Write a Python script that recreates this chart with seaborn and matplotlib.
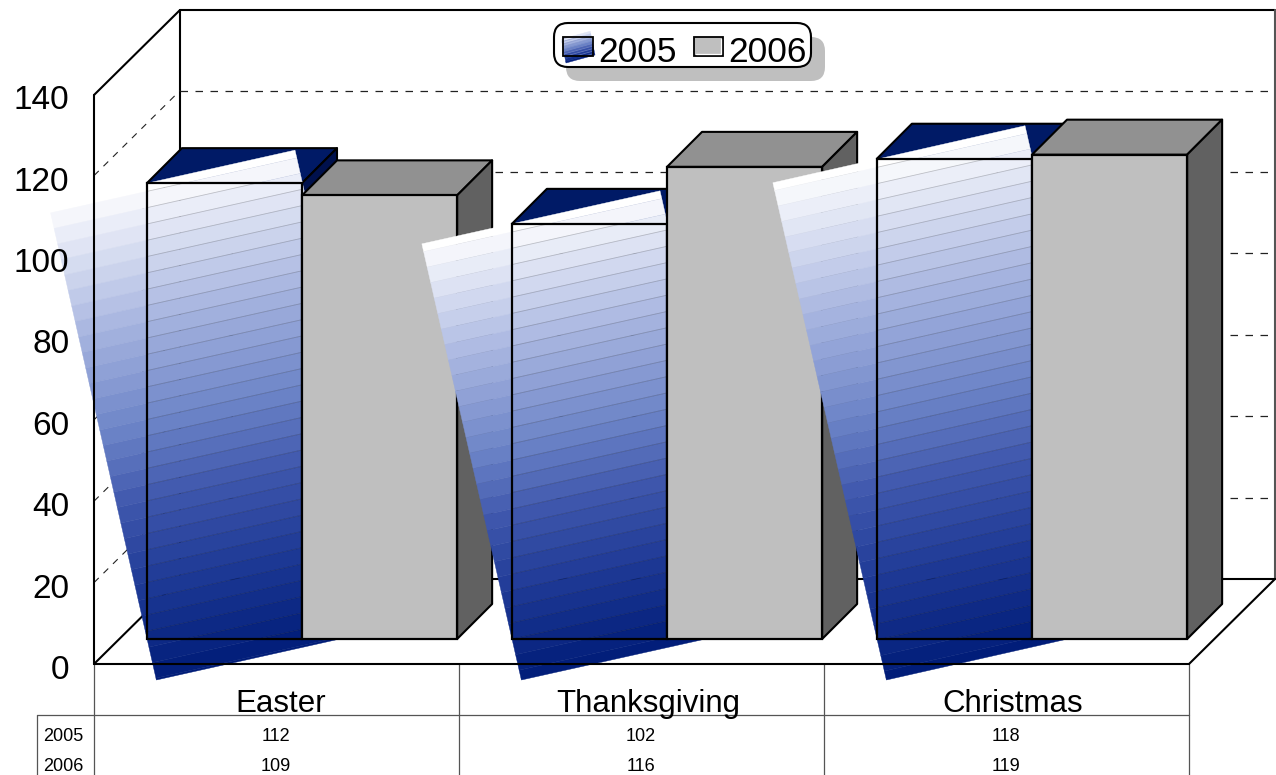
import numpy as np
import pandas as pd
import matplotlib
matplotlib.use('Agg')
import matplotlib.pyplot as plt
from matplotlib.patches import Polygon, Rectangle, FancyBboxPatch
from matplotlib.transforms import Affine2D
import seaborn as sns

# Chart values
holidays = ['Easter', 'Thanksgiving', 'Christmas']
years = ['2005', '2006']
sales_2005 = [112, 102, 118]
sales_2006 = [109, 116, 119]
y_ticks = [0, 20, 40, 60, 80, 100, 120, 140]

df = pd.DataFrame({
    'holiday': holidays * 2,
    'year': [years[0]] * 3 + [years[1]] * 3,
    'sales': sales_2005 + sales_2006,
})

sns.set_style('white')
plt.rcParams['font.family'] = ['Liberation Sans', 'DejaVu Sans']
plt.rcParams['text.color'] = 'black'
plt.rcParams['ytick.color'] = 'black'

W, H = 1276, 775
PX_PER_UNIT = 4.07
fig = plt.figure(figsize=(W / 100, H / 100), dpi=100)
ax = fig.add_axes([0, 0, 1, 1])

# Bars sit on the front plane of the fake 3d box
sns.barplot(data=df, x='holiday', y='sales', hue='year', order=holidays, hue_order=years,
            palette=['#001a66', '#bfbfbf'], width=0.85, gap=0, saturation=1,
            edgecolor='black', linewidth=1.6, legend=False, ax=ax)
ax.set_xlim((0 - 302) / 365, (W - 302) / 365)
ax.set_ylim((639 - H) / PX_PER_UNIT, 639 / PX_PER_UNIT)
ax.set_axis_off()

# Screen pixels, y going down
pix = Affine2D().scale(1 / W, -1 / H).translate(0, 1) + fig.transFigure
to_pix = ax.transData + pix.inverted()


def poly(points, color, z, edge='black', lw=1.5):
    ax.add_patch(Polygon(points, closed=True, facecolor=color, edgecolor=edge, linewidth=lw,
                         transform=pix, zorder=z, joinstyle='round', clip_on=False))


def line(xs, ys, z=2, color='black', lw=1.5, ls='-'):
    ax.plot(xs, ys, color=color, lw=lw, ls=ls, transform=pix, zorder=z, clip_on=False,
            solid_capstyle='round')


def band_color(t):
    stops = [0, 0.28, 0.49, 0.635, 0.8, 1]
    reds = [255, 165, 106, 63, 31, 0]
    greens = [255, 179, 130, 87, 58, 28]
    blues = [255, 223, 198, 173, 150, 120]
    return (np.interp(t, stops, reds) / 255, np.interp(t, stops, greens) / 255, np.interp(t, stops, blues) / 255)


def gradient(tl, tr, bl, z, clip=None, spacing=15.9, seam='black', seam_alpha=0.2):
    # tilted gradient sheet made of flat bands, first band is a half one and pure white
    tl, tr, bl = np.array(tl, float), np.array(tr, float), np.array(bl, float)
    down = bl - tl
    across = tr - tl
    length = np.hypot(*down)
    edges = np.append(np.arange(spacing / 2, length, spacing), length)
    edges = np.insert(edges, 0, 0)
    for i in range(len(edges) - 1):
        a = tl + down * edges[i] / length
        b = tl + down * edges[i + 1] / length
        color = (1, 1, 1) if i == 0 else band_color((edges[i] + edges[i + 1]) / 2 / length)
        poly([a, a + across, b + across, b], color, z, edge=color, lw=0.3)
        if clip is not None and i > 0:
            seam_line, = ax.plot([a[0], a[0] + across[0]], [a[1], a[1] + across[1]], color=seam, lw=0.6,
                                 alpha=seam_alpha, transform=pix, zorder=z + 0.1)
            seam_line.set_clip_path(clip)


# Walls and floor of the box
line([94, 94], [95, 664], z=100)
line([94, 180], [95, 10])
line([180, 180], [10, 579])
line([180, 1275], [10, 10])
line([1275, 1275], [10, 579], color='#555555')
line([180, 1275], [579, 579])
line([94, 180], [664, 579])
line([94, 1189], [664, 664], z=100)
line([1189, 1275], [664, 579])
for tick in y_ticks[1:-1]:
    back_y = 579 - tick * PX_PER_UNIT
    line([180, 1275], [back_y, back_y], lw=0.9, ls=(0, (6, 6)), color='#222222')
    line([94, 180], [back_y + 85, back_y], lw=0.8, ls=(0, (6, 6)), color='#222222')

# 3d faces and the gradient sheets, group by group so later ones cover earlier ones
blue_bars = ax.containers[0]
grey_bars = ax.containers[1]
sheet_offsets = [(-98, 22), (-90, 20), (-104, 24)]
DEPTH = 35
for i, (blue, grey) in enumerate(zip(blue_bars, grey_bars)):
    z = 10 + i * 10
    x0, top = to_pix.transform((blue.get_x(), blue.get_height()))
    x1, base = to_pix.transform((blue.get_x() + blue.get_width(), 0))
    poly([(x0, top), (x0 + DEPTH, top - DEPTH), (x1 + DEPTH, top - DEPTH), (x1, top)], '#001a66', z)
    poly([(x1, top), (x1 + DEPTH, top - DEPTH), (x1 + DEPTH, base - DEPTH), (x1, base)], '#00114d', z)

    off = sheet_offsets[i]
    front = Rectangle((x0, top), x1 - x0, base - top, transform=pix)
    gradient((x0 + off[0], top + off[1]), (x1 - 7, top - 33), (x0 + 9.5, base + 41), z + 1, clip=front)
    blue.set_facecolor('none')
    blue.set_zorder(z + 2)

    gx0, gtop = to_pix.transform((grey.get_x(), grey.get_height()))
    gx1, gbase = to_pix.transform((grey.get_x() + grey.get_width(), 0))
    poly([(gx0, gtop), (gx0 + DEPTH, gtop - DEPTH), (gx1 + DEPTH, gtop - DEPTH), (gx1, gtop)], '#919191', z + 3)
    poly([(gx1, gtop), (gx1 + DEPTH, gtop - DEPTH), (gx1 + DEPTH, gbase - DEPTH), (gx1, gbase)], '#616161', z + 3)
    grey.set_zorder(z + 4)

# Data table under the floor
TABLE_GREY = '#555555'
for x in [94, 459, 824, 1189]:
    line([x, x], [664, H], z=1, color=TABLE_GREY, lw=0.9)
line([37, 37], [715, H], z=1, color=TABLE_GREY, lw=0.9)
line([37, 1189], [715, 715], z=1, color=TABLE_GREY, lw=0.9)
for year, row, baseline in zip(years, [sales_2005, sales_2006], [741, 771]):
    ax.text(63.5, baseline, year, transform=pix, ha='center', va='baseline', fontsize=13, zorder=101)
    for x, val in zip([276, 641, 1006], row):
        ax.text(x, baseline, str(val), transform=pix, ha='center', va='baseline', fontsize=13, zorder=101)
for x, name in zip([281, 648.5, 1012.5], holidays):
    ax.text(x, 712, name, transform=pix, ha='center', va='baseline', fontsize=22.5, zorder=101)

# Legend box with its shadow
ax.add_patch(FancyBboxPatch((566 + 13, 37 + 13), 259 - 26, 44 - 26, boxstyle='round,pad=13,rounding_size=14',
                            facecolor='#bfbfbf', edgecolor='none', transform=pix, zorder=200))
ax.add_patch(FancyBboxPatch((554 + 13, 23 + 13), 257 - 26, 44 - 26, boxstyle='round,pad=13,rounding_size=14',
                            facecolor='white', edgecolor='black', linewidth=1.5, transform=pix, zorder=201))
swatch = Rectangle((563, 37), 30, 19, transform=pix)
gradient((561, 38), (590, 30), (566, 63), 202, clip=swatch, spacing=2.5, seam='#8090c8', seam_alpha=0.6)
ax.add_patch(Rectangle((563, 37), 30, 19, facecolor='none', edgecolor='black', linewidth=1.3,
                       transform=pix, zorder=203))
ax.add_patch(Rectangle((694, 37), 29, 19, facecolor='#bfbfbf', edgecolor='black', linewidth=1.3,
                       transform=pix, zorder=203))
line([696, 721, 721], [54, 54, 39], z=204, color='white', lw=0.9)
for x, year in zip([637, 767], years):
    ax.text(x, 62, year, transform=pix, ha='center', va='baseline', fontsize=25.5, zorder=205)

# Value axis labels on the left wall, in a see-through axes on top
ax_ticks = fig.add_axes([88 / W, 0, 0.01, 1], zorder=5)
ax_ticks.patch.set_alpha(0)
ax_ticks.set_ylim((667 - H) / PX_PER_UNIT, 667 / PX_PER_UNIT)
ax_ticks.set_yticks(y_ticks)
ax_ticks.set_xticks([])
ax_ticks.tick_params(axis='y', left=False, labelsize=24, pad=10)
sns.despine(ax=ax_ticks, left=True, bottom=True)

fig.savefig('out.png', dpi=100)
